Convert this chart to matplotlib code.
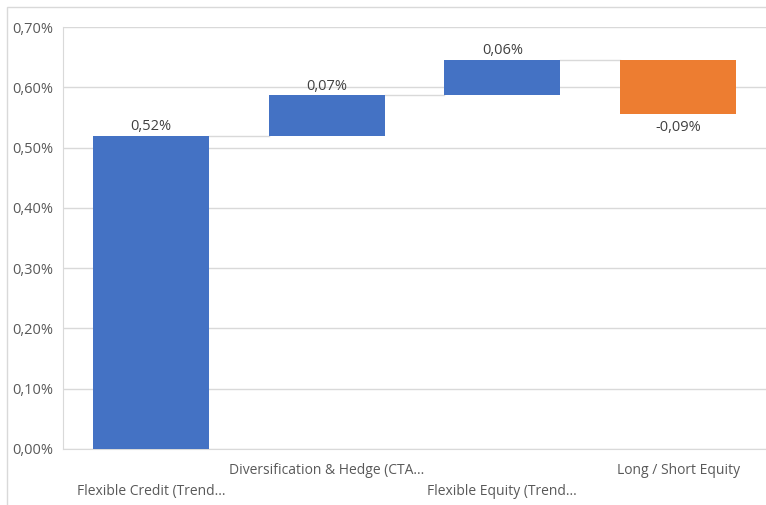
import matplotlib
matplotlib.use('Agg')
import matplotlib.pyplot as plt
from matplotlib.patches import Rectangle
from matplotlib.ticker import FuncFormatter

# waterfall contributions (in %)
categories = ['Flexible Credit (Trend...', 'Diversification & Hedge (CTA...',
              'Flexible Equity (Trend...', 'Long / Short Equity']
values = [0.52, 0.067, 0.059, -0.09]
labels = ['0,52%', '0,07%', '0,06%', '-0,09%']

blue = '#4472C4'
orange = '#ED7D31'
txt = '#595959'

plt.rcParams['font.family'] = ['Open Sans', 'DejaVu Sans']

fig = plt.figure(figsize=(7.66, 5.05), dpi=100)
ax = fig.add_axes([0.0822, 0.111, 0.9178, 0.8355])

# outer chart frame
fig.patches.append(Rectangle((7 / 766, -0.01), 1.0, 1 - 7 / 505 + 0.01, transform=fig.transFigure,
                             fill=False, edgecolor='#d9d9d9', linewidth=1))

bottoms = []
running = 0
for v in values:
    bottoms.append(running if v >= 0 else running + v)
    running += v
heights = [abs(v) for v in values]
colors = [blue if v >= 0 else orange for v in values]

x = list(range(len(values)))
ax.bar(x, heights, bottom=bottoms, width=0.66, color=colors, zorder=3)

# connector lines
running = 0
for i, v in enumerate(values[:-1]):
    running += v
    ax.plot([i + 0.33, i + 1 - 0.33], [running, running], color='#d9d9d9', lw=1, zorder=2)

# data labels
running = 0
for i, v in enumerate(values):
    top = running + v
    if v >= 0:
        ax.text(i, top + 0.002, labels[i], ha='center', va='bottom', fontsize=10.5, color='#404040')
    else:
        ax.text(i, top - 0.010, labels[i], ha='center', va='top', fontsize=10.5, color='#404040')
    running = top

ax.set_xlim(-0.5, 3.5)
ax.set_ylim(0, 0.70)
ax.set_yticks([i / 100 for i in range(0, 71, 10)])
ax.yaxis.set_major_formatter(FuncFormatter(lambda v, p: f'{v:.2f}%'.replace('.', ',')))
ax.grid(axis='y', color='#d9d9d9', lw=1, zorder=0)
ax.tick_params(axis='y', length=0, labelsize=10.5, labelcolor=txt, pad=7)
ax.tick_params(axis='x', length=0)
ax.set_xticks(x)
ax.set_xticklabels([])
for i, c in enumerate(categories):
    yoff = -0.102 if i % 2 == 0 else -0.050
    ax.text(i, yoff, c, transform=ax.get_xaxis_transform(), ha='center', va='center',
            fontsize=10, color=txt)

for s in ['top', 'right']:
    ax.spines[s].set_visible(False)
ax.spines['left'].set_color('#d9d9d9')
ax.spines['bottom'].set_color('#d9d9d9')

fig.savefig('out.png', dpi=100)
